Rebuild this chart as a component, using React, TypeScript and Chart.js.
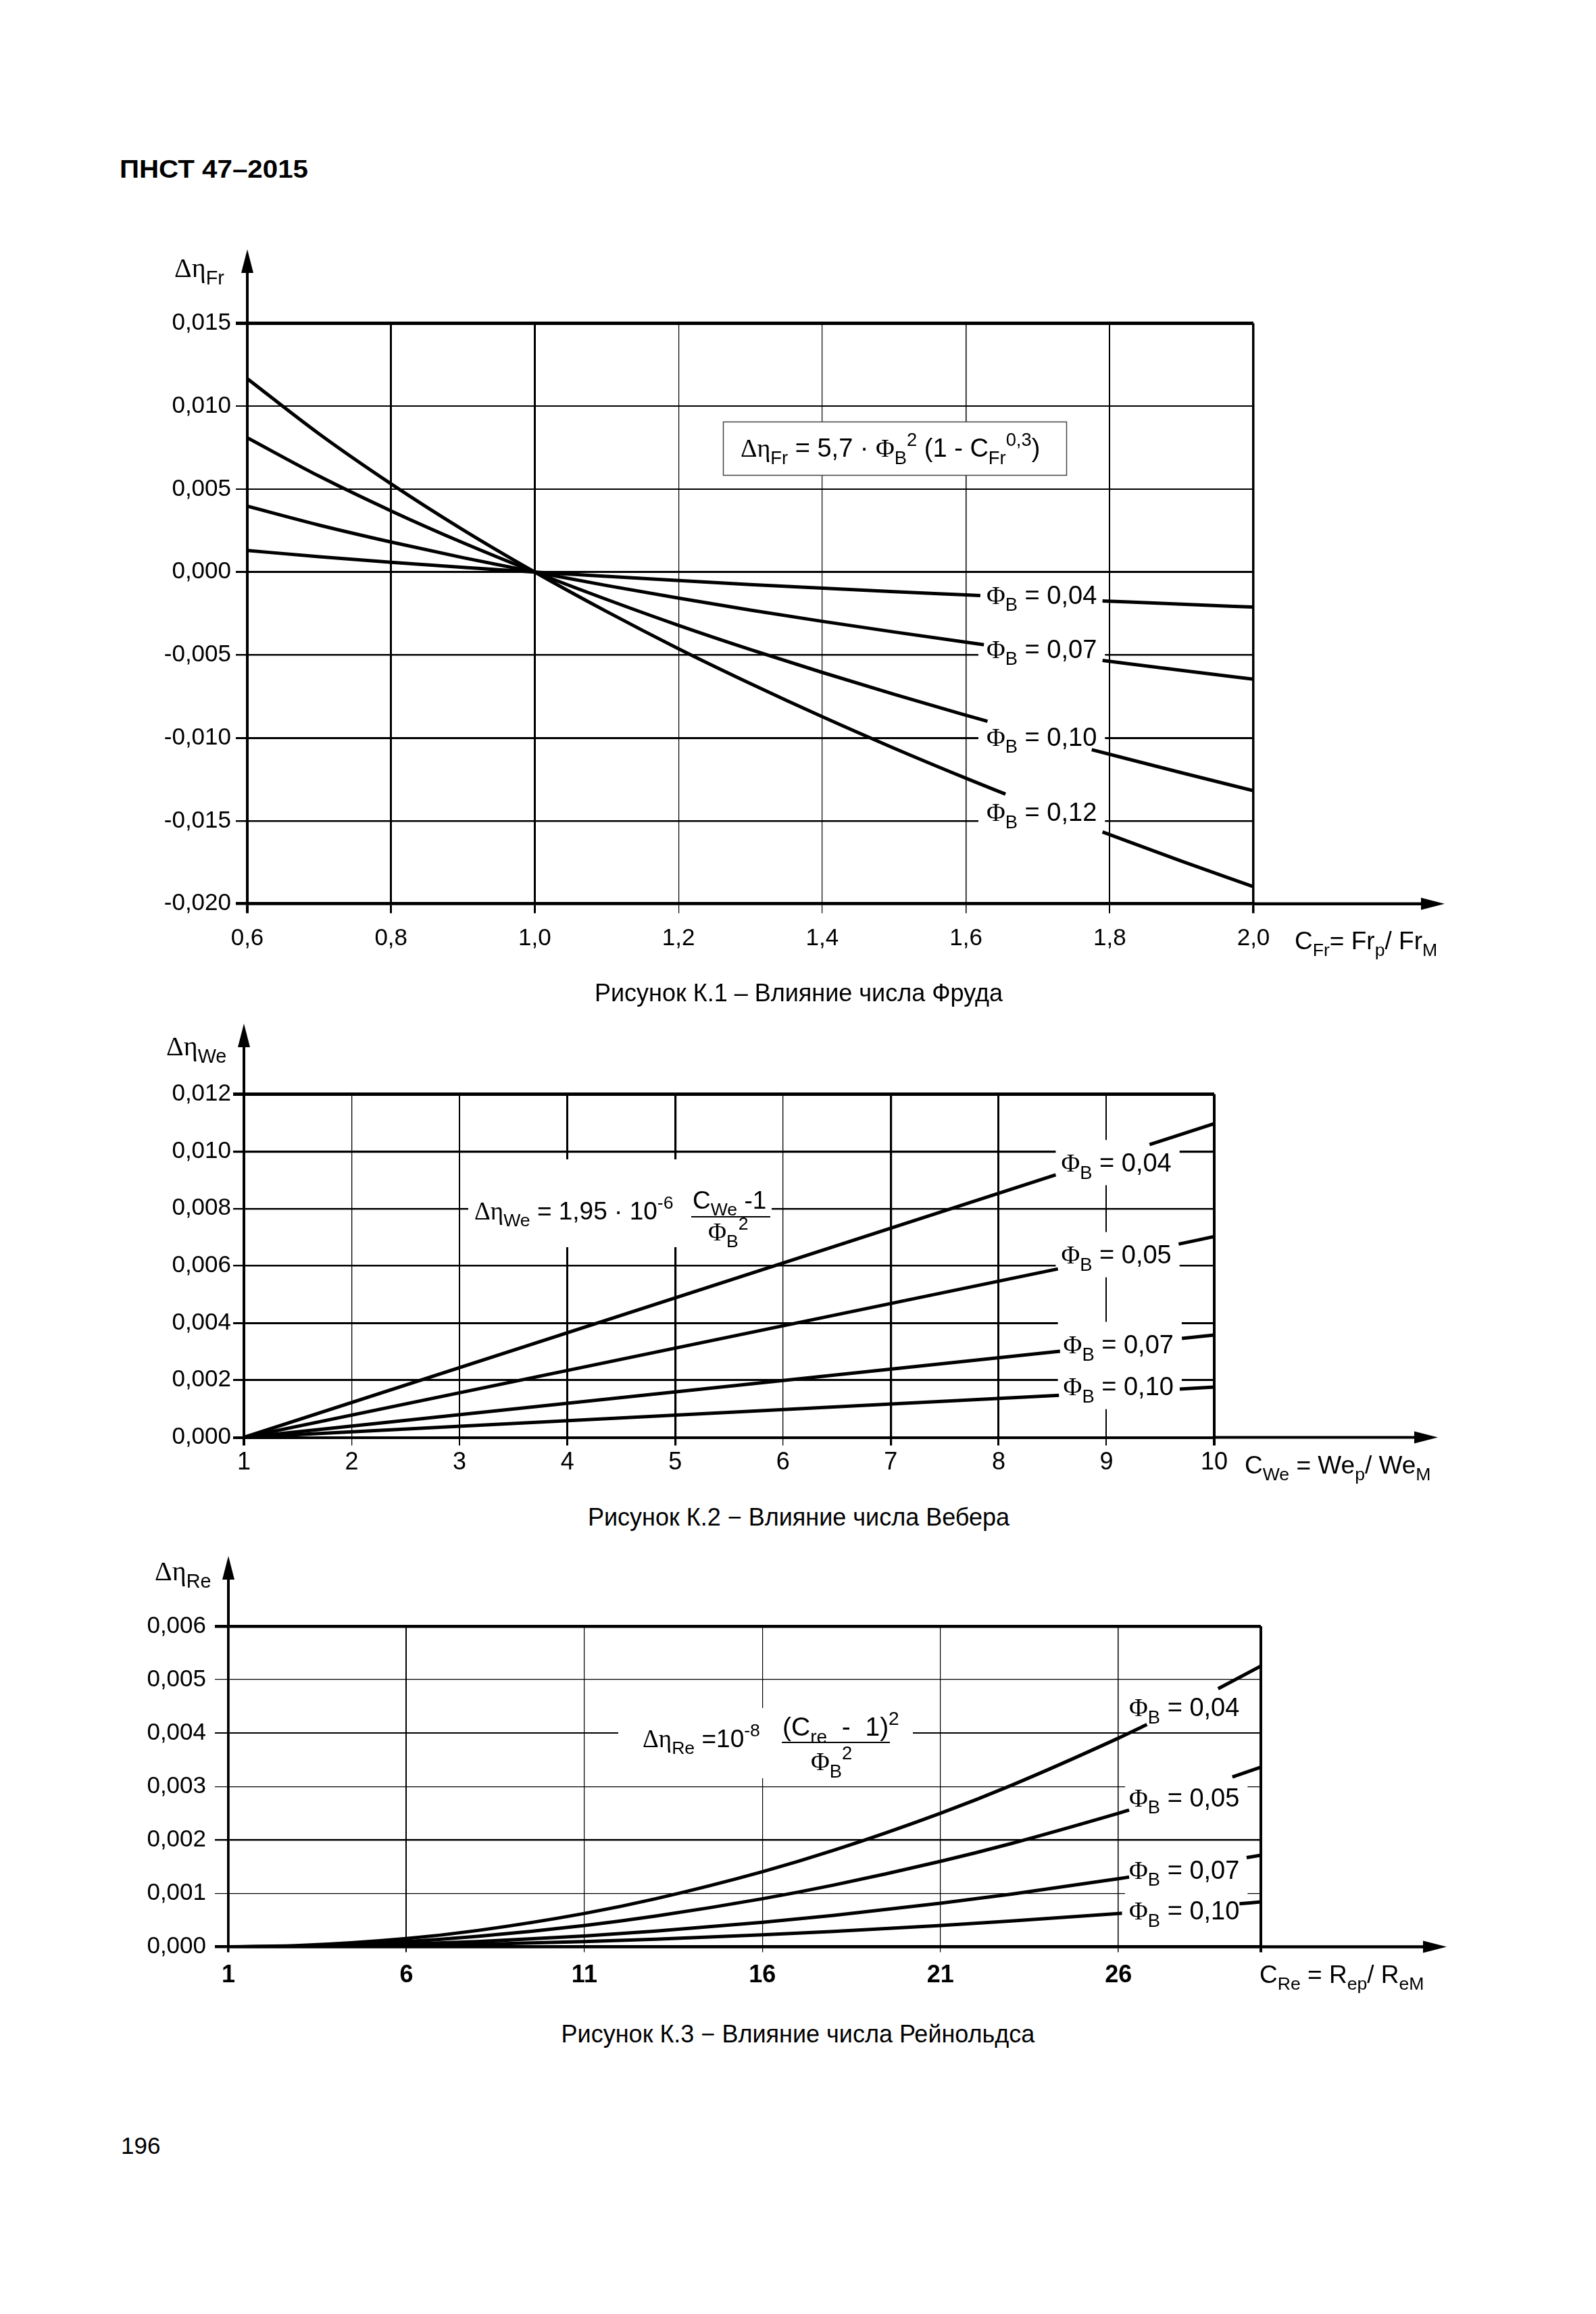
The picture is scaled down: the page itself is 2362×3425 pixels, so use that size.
import React, { useEffect, useRef } from 'react';
import { Chart, registerables } from 'chart.js';

Chart.register(...registerables);

const PAGE_W = 2362;
const PAGE_H = 3425;
const SANS = '"Liberation Sans", Arial, Helvetica, sans-serif';
const SERIF = '"Liberation Serif", "Times New Roman", serif';

// ================= Рисунок К.1 – Влияние числа Фруда =================
const frTicksX = [0.6, 0.8, 1.0, 1.2, 1.4, 1.6, 1.8, 2.0];
const frTickLabelsX = ['0,6', '0,8', '1,0', '1,2', '1,4', '1,6', '1,8', '2,0'];
const frTicksY = [-0.02, -0.015, -0.01, -0.005, 0, 0.005, 0.01, 0.015];
const frTickLabelsY = ['-0,020', '-0,015', '-0,010', '-0,005', '0,000', '0,005', '0,010', '0,015'];
const frPhi = ['0,04', '0,07', '0,10', '0,12'];

const frC04 = [0.6, 0.7, 0.8, 0.9, 1.0, 1.1, 1.2, 1.3, 1.4, 1.5, 1.6, 1.62, 1.7, 1.79, 1.9, 2.0];
const frEta04 = [0.0013, 0.00093, 0.00059, 0.00028, 0, -0.00026, -0.00051, -0.00075, -0.00097, -0.00118, -0.00138, -0.00142, null, -0.00174, -0.00194, -0.00211];
const frC07 = [0.6, 0.7, 0.8, 0.9, 1.0, 1.1, 1.2, 1.3, 1.4, 1.5, 1.6, 1.625, 1.7, 1.79, 1.9, 2.0];
const frEta07 = [0.00397, 0.00283, 0.00181, 0.00087, 0, -0.00081, -0.00157, -0.00229, -0.00297, -0.00361, -0.00423, -0.00438, null, -0.00533, -0.00593, -0.00646];
const frC10 = [0.6, 0.7, 0.8, 0.9, 1.0, 1.1, 1.2, 1.3, 1.4, 1.5, 1.6, 1.63, 1.7, 1.775, 1.9, 2.0];
const frEta10 = [0.0081, 0.00578, 0.00369, 0.00177, 0, -0.00165, -0.00321, -0.00467, -0.00605, -0.00737, -0.00863, -0.009, null, -0.01071, -0.0121, -0.01318];
const frC12 = [0.6, 0.7, 0.8, 0.9, 1.0, 1.1, 1.2, 1.3, 1.4, 1.5, 1.6, 1.655, 1.7, 1.79, 1.9, 2.0];
const frEta12 = [0.01166, 0.00833, 0.00532, 0.00255, 0, -0.00238, -0.00462, -0.00672, -0.00872, -0.01062, -0.01243, -0.01339, null, -0.01567, -0.01743, -0.01897];

// label anchors (data units): left edge x, vertical centre y
const frLabelX = [1.6286, 1.6286, 1.6286, 1.6286];
const frLabelY = [-0.00136, -0.00462, -0.00991, -0.01444];

// ================= Рисунок К.2 – Влияние числа Вебера =================
const weTicksX = [1, 2, 3, 4, 5, 6, 7, 8, 9, 10];
const weTickLabelsX = ['1', '2', '3', '4', '5', '6', '7', '8', '9', '10'];
const weTicksY = [0, 0.002, 0.004, 0.006, 0.008, 0.01, 0.012];
const weTickLabelsY = ['0,000', '0,002', '0,004', '0,006', '0,008', '0,010', '0,012'];
const wePhi = ['0,04', '0,05', '0,07', '0,10'];

const weC04 = [1, 8.53, 9.0, 9.4, 10];
const weEta04 = [0, 0.00918, null, 0.01024, 0.01097];
const weC05 = [1, 8.55, 9.0, 9.67, 10];
const weEta05 = [0, 0.00589, null, 0.00676, 0.00702];
const weC07 = [1, 8.57, 9.0, 9.7, 10];
const weEta07 = [0, 0.00301, null, 0.00346, 0.00358];
const weC10 = [1, 8.56, 9.0, 9.68, 10];
const weEta10 = [0, 0.00147, null, 0.00169, 0.00176];

const weLabelX = [8.58, 8.58, 8.6, 8.6];
const weLabelY = [0.00962, 0.0064, 0.00326, 0.00179];

// ================= Рисунок К.3 – Влияние числа Рейнольдса =================
const reTicksX = [1, 6, 11, 16, 21, 26, 30];
const reTickLabelsX = ['1', '6', '11', '16', '21', '26', ''];
const reTicksY = [0, 0.001, 0.002, 0.003, 0.004, 0.005, 0.006];
const reTickLabelsY = ['0,000', '0,001', '0,002', '0,003', '0,004', '0,005', '0,006'];
const rePhi = ['0,04', '0,05', '0,07', '0,10'];

const reC04 = [1, 3, 6, 8, 11, 13, 16, 18, 21, 23, 26, 26.8, 27.5, 28.8, 30];
const reEta04 = [0, 0.000025, 0.000156, 0.000306, 0.000625, 0.0009, 0.001406, 0.001806, 0.0025, 0.003025, 0.003906, 0.00416, null, 0.00483, 0.005256];
const reC05 = [1, 3, 6, 8, 11, 13, 16, 18, 21, 23, 26, 26.3, 27.5, 29.2, 30];
const reEta05 = [0, 0.000016, 0.0001, 0.000196, 0.0004, 0.000576, 0.0009, 0.001156, 0.0016, 0.001936, 0.0025, 0.00256, null, 0.00318, 0.003364];
const reC07 = [1, 3, 6, 8, 11, 13, 16, 18, 21, 23, 26, 26.3, 28, 29.6, 30];
const reEta07 = [0, 0.000008, 0.000051, 0.0001, 0.000204, 0.000294, 0.000459, 0.00059, 0.000816, 0.000988, 0.001276, 0.001306, null, 0.001669, 0.001716];
const reC10 = [1, 3, 6, 8, 11, 13, 16, 18, 21, 23, 26, 26.1, 28, 29.4, 30];
const reEta10 = [0, 0.000004, 0.000025, 0.000049, 0.0001, 0.000144, 0.000225, 0.000289, 0.0004, 0.000484, 0.000625, 0.00063, null, 0.000807, 0.000841];

const reLabelX = [26.3, 26.3, 26.3, 26.3];
const reLabelY = [0.00449, 0.0028, 0.00145, 0.00068];

// ---------------- text helpers ----------------
type Seg = [string, string?, boolean?];

function segFont(k: string | undefined, serif: boolean | undefined, size: number, bold: boolean) {
  const s = k === 'sub' || k === 'sup' ? size * 0.72 : size;
  return `${bold ? 'bold ' : ''}${s}px ${serif ? SERIF : SANS}`;
}

function richWidth(ctx: CanvasRenderingContext2D, segs: Seg[], size: number, bold = false) {
  let w = 0;
  for (const [t, k, serif] of segs) {
    ctx.font = segFont(k, serif, size, bold);
    w += ctx.measureText(t).width;
  }
  return w;
}

function drawRich(ctx: CanvasRenderingContext2D, segs: Seg[], x: number, y: number, size: number, align = 'left', bold = false) {
  const w = richWidth(ctx, segs, size, bold);
  let cx = align === 'left' ? x : align === 'center' ? x - w / 2 : x - w;
  ctx.textAlign = 'left';
  ctx.textBaseline = 'alphabetic';
  ctx.fillStyle = '#000';
  for (const [t, k, serif] of segs) {
    ctx.font = segFont(k, serif, size, bold);
    const dy = k === 'sub' ? size * 0.28 : k === 'sup' ? -size * 0.42 : 0;
    ctx.fillText(t, cx, y + dy);
    cx += ctx.measureText(t).width;
  }
  return w;
}

const phiSegs = (v: string): Seg[] => [['Φ', 'n', true], ['B', 'sub'], [' = ' + v]];

function drawCurveLabels(c: any, xs: number[], ys: number[], names: string[], size: number, padL: number, padR: number, up: number, down: number) {
  const ctx = c.ctx as CanvasRenderingContext2D;
  names.forEach((n, i) => {
    const px = c.scales.x.getPixelForValue(xs[i]);
    const pc = c.scales.y.getPixelForValue(ys[i]);
    const segs = phiSegs(n);
    const w = richWidth(ctx, segs, size);
    ctx.fillStyle = '#fff';
    ctx.fillRect(px - padL, pc - up, w + padL + padR, up + down);
    drawRich(ctx, segs, px, pc + size * 0.36, size);
  });
}

function yArrow(c: any, tipY: number, lw: number) {
  const ctx = c.ctx as CanvasRenderingContext2D;
  const x = c.chartArea.left;
  ctx.strokeStyle = '#000';
  ctx.lineWidth = lw;
  ctx.beginPath();
  ctx.moveTo(x, c.chartArea.top);
  ctx.lineTo(x, tipY + 25);
  ctx.stroke();
  ctx.fillStyle = '#000';
  ctx.beginPath();
  ctx.moveTo(x, tipY);
  ctx.lineTo(x - 9, tipY + 35);
  ctx.lineTo(x + 9, tipY + 35);
  ctx.closePath();
  ctx.fill();
}

function xArrow(c: any, tipX: number, lw: number) {
  const ctx = c.ctx as CanvasRenderingContext2D;
  const y = c.chartArea.bottom;
  ctx.strokeStyle = '#000';
  ctx.lineWidth = lw;
  ctx.beginPath();
  ctx.moveTo(c.chartArea.right, y);
  ctx.lineTo(tipX - 25, y);
  ctx.stroke();
  ctx.fillStyle = '#000';
  ctx.beginPath();
  ctx.moveTo(tipX, y);
  ctx.lineTo(tipX - 35, y - 9);
  ctx.lineTo(tipX - 35, y + 9);
  ctx.closePath();
  ctx.fill();
}

// ---------------- chart config helpers ----------------
function lineDs(xs: number[], ys: (number | null)[], width: number) {
  return {
    data: xs.map((x, i) => ({ x, y: ys[i] })),
    borderColor: '#000',
    borderWidth: width,
    pointRadius: 0,
    pointHoverRadius: 0,
    fill: false,
    spanGaps: false,
    cubicInterpolationMode: 'monotone',
    borderCapStyle: 'butt',
    borderJoinStyle: 'round',
  };
}

const Y_AXIS_W = 220;

function axis(o: any) {
  return {
    type: 'linear',
    min: o.min,
    max: o.max,
    afterBuildTicks: (s: any) => {
      s.ticks = o.ticks.map((v: number) => ({ value: v }));
    },
    afterFit: (s: any) => {
      if (o.horizontal) s.height = o.size;
      else s.width = o.size;
    },
    ticks: {
      autoSkip: false,
      maxRotation: 0,
      minRotation: 0,
      padding: o.pad,
      color: '#000',
      font: { family: SANS, size: o.font, weight: o.bold ? 'bold' : 'normal', lineHeight: 1.2 },
      callback: (_v: any, i: number) => o.labels[i],
    },
    grid: {
      color: '#000',
      lineWidth: (ctx: any) => o.widths[ctx.index] ?? 1,
      tickLength: o.tl,
      drawTicks: true,
      drawOnChartArea: true,
    },
    border: { display: true, color: '#000', width: o.border },
  };
}

function baseOptions(padding: any, x: any, y: any) {
  return {
    responsive: false,
    maintainAspectRatio: false,
    animation: false,
    devicePixelRatio: 1,
    events: [],
    layout: { padding, autoPadding: false },
    plugins: { legend: { display: false }, tooltip: { enabled: false }, title: { display: false } },
    scales: { x, y },
  };
}

// ---------------- Figure K.1 ----------------
function buildFr(TOP: number, H: number) {
  const py = (y: number) => y - TOP;
  const formula: Seg[] = [
    ['Δη', 'n', true], ['Fr', 'sub'], [' = 5,7 · '], ['Φ', 'n', true], ['B', 'sub'], ['2', 'sup'],
    [' (1 - C'], ['Fr', 'sub'], ['0,3', 'sup'], [')'],
  ];
  const decor = {
    id: 'decorFr',
    beforeDatasetsDraw(c: any) {
      const ctx = c.ctx as CanvasRenderingContext2D;
      ctx.save();
      ctx.fillStyle = '#fff';
      ctx.fillRect(1070, py(624), 508, 79);
      ctx.strokeStyle = '#444';
      ctx.lineWidth = 1.5;
      ctx.strokeRect(1070.5, py(624) + 0.5, 508, 79);
      drawRich(ctx, formula, 1096, py(676), 38);
      drawCurveLabels(c, frLabelX, frLabelY, frPhi, 38, 12, 12, 26, 28);
      ctx.restore();
    },
    afterDraw(c: any) {
      const ctx = c.ctx as CanvasRenderingContext2D;
      ctx.save();
      yArrow(c, py(369), 4);
      xArrow(c, 2138, 4.5);
      drawRich(ctx, [['Δη', 'n', true], ['Fr', 'sub']], 258, py(410), 40);
      drawRich(ctx, [['C'], ['Fr', 'sub'], ['= Fr'], ['p', 'sub'], ['/ Fr'], ['M', 'sub']], 1916, py(1405), 37);
      ctx.restore();
    },
  };
  const x = axis({
    min: 0.6, max: 2.0, ticks: frTicksX, labels: frTickLabelsX, horizontal: true, size: 100,
    pad: 17, tl: 14, font: 35, widths: [4, 3, 3, 1.2, 1.2, 1.5, 2, 3.5], border: 4.5,
  });
  const y = axis({
    min: -0.02, max: 0.015, ticks: frTicksY, labels: frTickLabelsY, horizontal: false, size: Y_AXIS_W,
    pad: 7, tl: 17, font: 35, widths: [4.5, 2.5, 3, 2.5, 3, 2, 2, 5], border: 4,
  });
  return {
    type: 'line',
    data: {
      datasets: [
        lineDs(frC04, frEta04, 5),
        lineDs(frC07, frEta07, 5),
        lineDs(frC10, frEta10, 5),
        lineDs(frC12, frEta12, 5),
      ],
    },
    options: baseOptions({ left: 366 - Y_AXIS_W, right: PAGE_W - 1855, top: 478.5 - TOP, bottom: TOP + H - 1337.7 - 100 }, x, y),
    plugins: [decor],
  };
}

// ---------------- Figure K.2 ----------------
function buildWe(TOP: number, H: number) {
  const py = (y: number) => y - TOP;
  const decor = {
    id: 'decorWe',
    beforeDatasetsDraw(c: any) {
      const ctx = c.ctx as CanvasRenderingContext2D;
      ctx.save();
      ctx.fillStyle = '#fff';
      ctx.fillRect(693, py(1716), 449, 130);
      drawRich(ctx, [['Δη', 'n', true], ['We', 'sub'], [' = 1,95 · 10'], ['-6', 'sup']], 702, py(1805), 37);
      drawRich(ctx, [['C'], ['We', 'sub'], [' -1']], 1025, py(1789), 37);
      ctx.fillStyle = '#000';
      ctx.fillRect(1023, py(1800), 117, 2);
      drawRich(ctx, [['Φ', 'n', true], ['B', 'sub'], ['2', 'sup']], 1048, py(1836), 37);
      drawCurveLabels(c, weLabelX, weLabelY, wePhi, 38, 8, 12, 33, 34);
      ctx.restore();
    },
    afterDraw(c: any) {
      const ctx = c.ctx as CanvasRenderingContext2D;
      ctx.save();
      yArrow(c, py(1515), 4);
      xArrow(c, 2128, 4);
      drawRich(ctx, [['Δη', 'n', true], ['We', 'sub']], 246, py(1562), 40);
      drawRich(ctx, [['C'], ['We', 'sub'], [' = We'], ['p', 'sub'], ['/ We'], ['M', 'sub']], 1842, py(2181), 37);
      ctx.restore();
    },
  };
  const x = axis({
    min: 1, max: 10, ticks: weTicksX, labels: weTickLabelsX, horizontal: true, size: 70,
    pad: 3.5, tl: 12, font: 36, widths: [4, 1.3, 2, 3, 3.2, 1.3, 3.2, 3, 2, 4], border: 4,
  });
  const y = axis({
    min: 0, max: 0.012, ticks: weTicksY, labels: weTickLabelsY, horizontal: false, size: Y_AXIS_W,
    pad: 3, tl: 16, font: 35, widths: [4, 3, 3, 2.4, 2.4, 3.3, 5], border: 4,
  });
  return {
    type: 'line',
    data: {
      datasets: [
        lineDs(weC04, weEta04, 5),
        lineDs(weC05, weEta05, 5),
        lineDs(weC07, weEta07, 5),
        lineDs(weC10, weEta10, 5),
      ],
    },
    options: baseOptions({ left: 361 - Y_AXIS_W, right: PAGE_W - 1797, top: 1619.5 - TOP, bottom: TOP + H - 2127.5 - 70 }, x, y),
    plugins: [decor],
  };
}

// ---------------- Figure K.3 ----------------
function buildRe(TOP: number, H: number) {
  const py = (y: number) => y - TOP;
  const decor = {
    id: 'decorRe',
    beforeDatasetsDraw(c: any) {
      const ctx = c.ctx as CanvasRenderingContext2D;
      ctx.save();
      ctx.fillStyle = '#fff';
      ctx.fillRect(915, py(2528), 436, 104);
      drawRich(ctx, [['Δη', 'n', true], ['Re', 'sub'], [' =10'], ['-8', 'sup']], 951, py(2586), 37);
      drawRich(ctx, [['(C'], ['re', 'sub'], ['  -  1)'], ['2', 'sup']], 1158, py(2569), 39);
      ctx.fillStyle = '#000';
      ctx.fillRect(1157, py(2578), 160, 2);
      drawRich(ctx, [['Φ', 'n', true], ['B', 'sub'], ['2', 'sup']], 1200, py(2620), 38);
      drawCurveLabels(c, reLabelX, reLabelY, rePhi, 38, 6, 12, 28, 28);
      ctx.restore();
    },
    afterDraw(c: any) {
      const ctx = c.ctx as CanvasRenderingContext2D;
      ctx.save();
      yArrow(c, py(2303), 4);
      xArrow(c, 2141, 4.5);
      drawRich(ctx, [['Δη', 'n', true], ['Re', 'sub']], 229, py(2339), 40);
      drawRich(ctx, [['C'], ['Re', 'sub'], [' = R'], ['ep', 'sub'], ['/ R'], ['eM', 'sub']], 1864, py(2935), 37);
      ctx.restore();
    },
  };
  const x = axis({
    min: 1, max: 30, ticks: reTicksX, labels: reTickLabelsX, horizontal: true, size: 80,
    pad: 13, tl: 8, font: 36, bold: true, widths: [3.5, 2, 1.2, 1.2, 1.2, 1.5, 4], border: 4.5,
  });
  const y = axis({
    min: 0, max: 0.006, ticks: reTicksY, labels: reTickLabelsY, horizontal: false, size: Y_AXIS_W,
    pad: 13, tl: 20, font: 35, widths: [4.5, 1.2, 2.5, 1.2, 2, 1.2, 4.5], border: 3.5,
  });
  return {
    type: 'line',
    data: {
      datasets: [
        lineDs(reC04, reEta04, 5),
        lineDs(reC05, reEta05, 5),
        lineDs(reC07, reEta07, 5),
        lineDs(reC10, reEta10, 5),
      ],
    },
    options: baseOptions({ left: 338 - Y_AXIS_W, right: PAGE_W - 1866, top: 2407 - TOP, bottom: TOP + H - 2881.6 - 80 }, x, y),
    plugins: [decor],
  };
}

function ChartCanvas({ top, height, build }: { top: number; height: number; build: (t: number, h: number) => any }) {
  const ref = useRef<HTMLCanvasElement>(null);
  useEffect(() => {
    const chart = new Chart(ref.current as HTMLCanvasElement, build(top, height));
    return () => chart.destroy();
  }, []);
  return (
    <canvas
      ref={ref}
      width={PAGE_W}
      height={height}
      style={{ position: 'absolute', left: 0, top, width: PAGE_W, height, display: 'block' }}
    />
  );
}

const textBase: React.CSSProperties = {
  position: 'absolute',
  fontFamily: SANS,
  color: '#000',
  lineHeight: 1,
  whiteSpace: 'nowrap',
};

export default function App() {
  return (
    <div style={{ position: 'absolute', left: 0, top: 0, width: PAGE_W, height: PAGE_H, background: '#fff', overflow: 'hidden' }}>
      <ChartCanvas top={340} height={1110} build={buildFr} />
      <ChartCanvas top={1490} height={730} build={buildWe} />
      <ChartCanvas top={2280} height={700} build={buildRe} />
      <div style={{ ...textBase, left: 177, top: 233, fontSize: 36, fontWeight: 'bold', transform: 'scaleX(1.12)', transformOrigin: 'left top' }}>
        ПНСТ 47–2015
      </div>
      <div style={{ ...textBase, left: 1182, top: 1452, fontSize: 36, transform: 'translateX(-50%)' }}>
        Рисунок К.1 – Влияние числа Фруда
      </div>
      <div style={{ ...textBase, left: 1182, top: 2228, fontSize: 36, transform: 'translateX(-50%)' }}>
        Рисунок К.2 − Влияние числа Вебера
      </div>
      <div style={{ ...textBase, left: 1181, top: 2993, fontSize: 36, transform: 'translateX(-50%)' }}>
        Рисунок К.3 − Влияние числа Рейнольдса
      </div>
      <div style={{ ...textBase, left: 179, top: 3158, fontSize: 35 }}>196</div>
    </div>
  );
}
